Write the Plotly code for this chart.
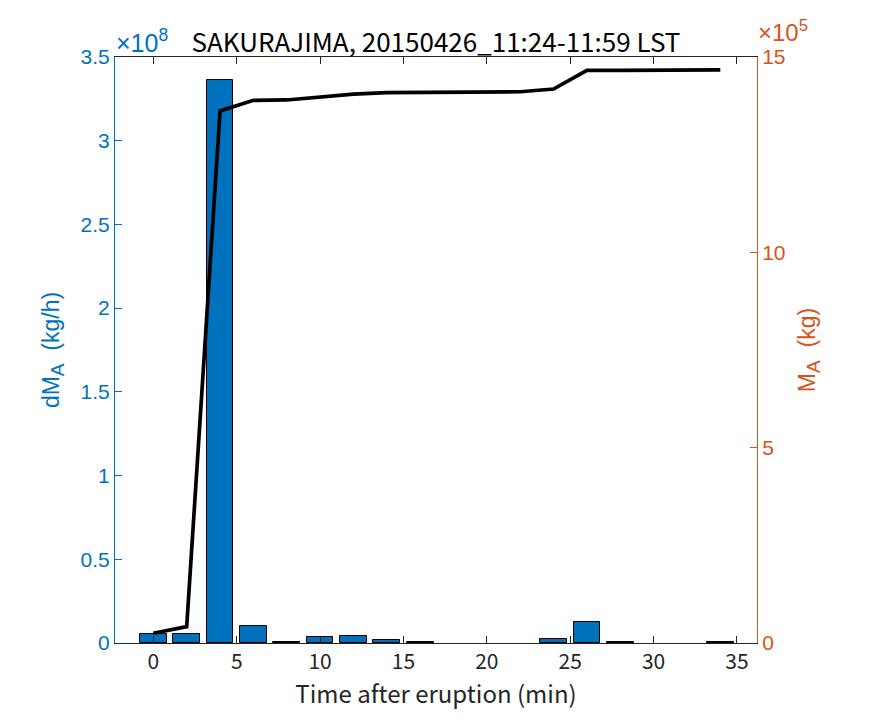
import plotly.graph_objects as go

# time after eruption (min)
minutes = [0, 2, 4, 6, 8, 10, 12, 14, 16, 18, 20, 22, 24, 26, 28, 30, 32, 34]

# ash discharge rate dM_A (kg/h); None = no bar drawn
dma = [5.4e6, 5.4e6, 3.363e8, 1.02e7, 0.4e6, 3.6e6, 4.2e6, 1.8e6, 0.4e6,
       None, None, None, 2.4e6, 1.27e7, 0.4e6, None, None, 0.4e6]

# cumulative ash mass M_A (kg)
ma = [0.25e5, 0.42e5, 13.62e5, 13.89e5, 13.90e5, 13.98e5, 14.05e5, 14.09e5,
      14.10e5, 14.11e5, 14.11e5, 14.11e5, 14.18e5, 14.66e5, 14.66e5, 14.66e5,
      14.66e5, 14.67e5]

left_ticks = [0, 0.5e8, 1e8, 1.5e8, 2e8, 2.5e8, 3e8, 3.5e8]
left_labels = ["0", "0.5", "1", "1.5", "2", "2.5", "3", "3.5"]
right_ticks = [0, 5e5, 10e5, 15e5]
right_labels = ["0", "5", "10", "15"]

BLUE = "#0072BD"
ORANGE = "#D95319"
AX = "#262626"
JP = "Noto Sans CJK JP"
SANS = "Liberation Sans"

SUB = "<sub><span style='font-size:19px'>A</span></sub>"


def main():
    fig = go.Figure()

    fig.add_trace(go.Bar(x=minutes, y=dma, width=1.6,
                         marker=dict(color=BLUE, line=dict(color="black", width=1)),
                         yaxis="y", showlegend=False))

    fig.add_trace(go.Scatter(x=minutes, y=ma, mode="lines",
                             line=dict(color="black", width=3.7),
                             yaxis="y2", showlegend=False))

    # page has an 8px body margin, so margins are shifted by that much
    fig.update_layout(
        width=875, height=723,
        margin=dict(l=107, r=126, t=49, b=88),
        plot_bgcolor="white", paper_bgcolor="white",
        title=dict(text="SAKURAJIMA, 20150426_11:24-11:59 LST",
                   font=dict(family=JP, size=26, color="black"),
                   x=0.5, xanchor="center", xref="paper",
                   y=0.952, yanchor="middle"),
        xaxis=dict(range=[-2.3, 36.2], tickvals=[0, 5, 10, 15, 20, 25, 30, 35],
                   ticks="inside", ticklen=7, tickcolor=AX,
                   showline=True, linecolor=AX, linewidth=1, mirror="ticks",
                   showgrid=False, zeroline=False,
                   tickfont=dict(family=JP, size=21, color=AX),
                   title=dict(text="Time after eruption (min)", standoff=7,
                              font=dict(family=JP, size=24, color=AX))),
        yaxis=dict(range=[0, 3.5e8], tickvals=left_ticks, ticktext=left_labels,
                   ticks="inside", ticklen=7, tickcolor=BLUE,
                   showline=True, linecolor=BLUE, linewidth=1,
                   showgrid=False, zeroline=False,
                   tickfont=dict(family=SANS, size=21, color=BLUE),
                   title=dict(text="dM" + SUB + "  (kg/h)", standoff=14,
                              font=dict(family=SANS, size=23, color=BLUE))),
        yaxis2=dict(range=[0, 15e5], tickvals=right_ticks, ticktext=right_labels,
                    overlaying="y", side="right",
                    ticks="inside", ticklen=7, tickcolor=ORANGE,
                    showline=True, linecolor=ORANGE, linewidth=1,
                    showgrid=False, zeroline=False,
                    tickfont=dict(family=SANS, size=21, color=ORANGE),
                    title=dict(text="M" + SUB + "  (kg)", standoff=14,
                               font=dict(family=SANS, size=23, color=ORANGE))),
        bargap=0,
    )

    fig.add_annotation(text="×10<sup>8</sup>", xref="paper", yref="paper",
                       x=0.0, y=1.0, xanchor="left", yanchor="bottom",
                       xshift=0, yshift=-1, borderpad=0,
                       showarrow=False, font=dict(family=SANS, size=25, color=BLUE))
    fig.add_annotation(text="×10<sup>5</sup>", xref="paper", yref="paper",
                       x=1.0, y=1.0, xanchor="left", yanchor="bottom",
                       xshift=0, yshift=10, borderpad=0,
                       showarrow=False, font=dict(family=SANS, size=24, color=ORANGE))

    fig.write_html("out.html")


if __name__ == "__main__":
    main()
